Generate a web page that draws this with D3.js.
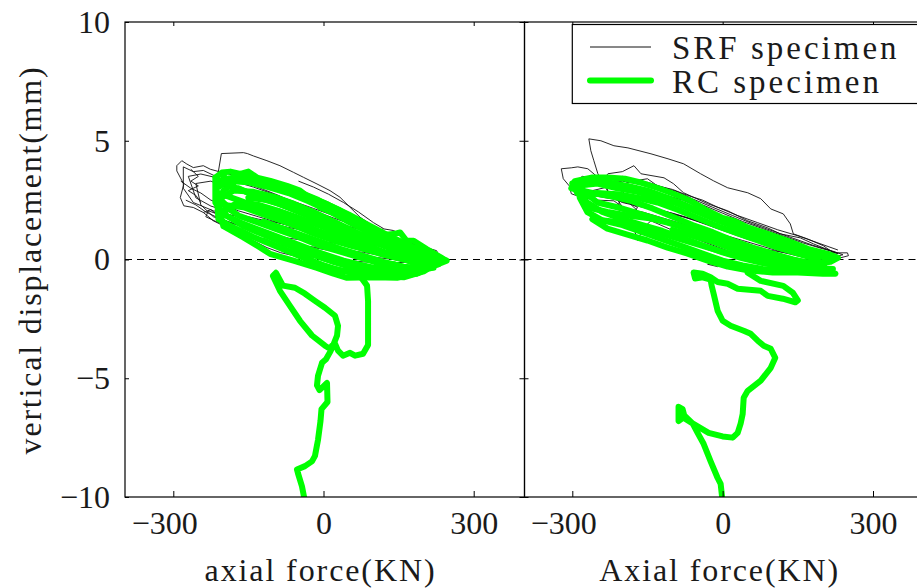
<!DOCTYPE html>
<html>
<head>
<meta charset="utf-8">
<script src="https://cdn.jsdelivr.net/npm/d3@7"></script>
<style>
  body { margin: 0; background: #fff; }
  svg { display: block; }
</style>
</head>
<body>
<svg id="chart" width="917" height="588"></svg>
<script>
var FONT = "'Liberation Serif', 'Times New Roman', 'DejaVu Serif', serif"

// axis ticks
var xTicks = [-300, 0, 300]
var yTicks = [-10, -5, 0, 5, 10]
var legendLabels = ["SRF specimen", "RC specimen"]
var xLabels = ["axial force(KN)", "Axial force(KN)"]
var yLabel = "vertical displacement(mm)"

// ---- left panel, SRF specimen (black loops) ----
var srfL1 = [[-210,3.7],[-204,4.46],[-160,4.5],[-152,4.46],[-140,4.36],[-113,4.16],[-87,3.95],[-60,3.67],[-40,3.46],[-13,3.18],[13,2.9],[33,2.62],[53,2.2],[73,1.78],[93,1.5],[106,1.22],[120,1.29],[140,1.22],[153,1.07],[166,0.86],[180,0.65],[206,0.5],[226,0.37],[229,0.23],[239,0.03],[226,-0.19],[213,-0.48],[200,-0.3],[160,-0.1],[120,0.15],[80,0.3],[40,0.4],[0,0.5],[-40,0.55],[-86,0.6],[-130,0.9],[-170,1.2],[-200,1.6],[-215,2.2],[-210,3.0],[-210,3.7]]
var srfL2 = [[-226,3.8],[-240,3.95],[-260,3.87],[-273,4.02],[-283,4.16],[-293,3.95],[-293,3.73],[-279,3.17],[-286,2.61],[-279,2.26],[-260,2.19],[-240,1.98],[-220,1.63],[-193,1.35],[-166,1.07],[-140,0.79],[-113,0.5],[-86,0.29],[-60,0.16],[-20,0.1],[30,0.0],[80,-0.1],[130,-0.15],[180,-0.1],[213,-0.05],[200,0.2],[170,0.5],[130,0.9],[100,1.2],[70,1.55],[40,1.9],[0,2.3],[-40,2.65],[-80,2.95],[-120,3.25],[-160,3.45],[-200,3.65],[-226,3.8]]
var srfL3 = [[-270,3.5],[-245,3.6],[-215,3.45],[-180,3.3],[-140,3.05],[-100,2.75],[-60,2.45],[-20,2.15],[20,1.85],[60,1.5],[100,1.2],[130,1.0],[170,0.7],[200,0.45],[220,0.25],[195,0.15],[160,0.3],[120,0.6],[90,0.8],[50,0.95],[10,1.1],[-30,1.3],[-80,1.5],[-130,1.7],[-180,1.95],[-225,2.25],[-255,2.6],[-270,3.5]]
var srfL4 = [[-255,3.2],[-225,3.3],[-190,3.0],[-150,2.8],[-110,2.5],[-70,2.2],[-30,1.9],[10,1.65],[50,1.4],[90,1.15],[125,1.05],[150,0.85],[180,0.6],[150,0.5],[120,0.75],[95,0.85],[60,0.75],[20,0.7],[-20,0.75],[-70,0.9],[-120,1.15],[-170,1.45],[-220,1.8],[-245,2.3],[-255,3.2]]
var srfL5 = [[-240,1.98],[-225,2.1],[-205,1.75],[-195,1.45],[-215,1.6],[-235,1.8],[-230,2.05],[-210,1.9],[-200,1.55]]
var srfL6 = [[95,1.15],[110,1.3],[125,1.05],[130,0.85],[115,0.9],[100,1.1],[120,1.2],[133,0.95],[110,0.8]]
var srfL7 = [[160,0.4],[190,0.25],[210,0.1],[230,0.2],[220,-0.1],[200,-0.25],[175,0.0],[160,0.4]]
var srfL8 = [[-280,3.9],[-260,3.7],[-240,3.75],[-220,3.55],[-200,3.5],[-180,3.45],[-150,3.2],[-120,2.95],[-90,2.7],[-60,2.4],[-20,2.05],[20,1.75],[60,1.45],[100,1.25],[140,0.95],[180,0.6],[215,0.3],[235,0.1],[210,-0.1],[170,0.05],[130,0.3],[100,0.6],[60,0.8],[20,0.95],[-20,1.15],[-70,1.35],[-120,1.6],[-170,1.8],[-220,2.05],[-260,2.4],[-280,3.0],[-280,3.9]]
var srfL9 = [[-285,3.3],[-265,3.0],[-245,2.8],[-225,2.5],[-200,2.3],[-170,2.05],[-130,1.8],[-90,1.55],[-50,1.3],[-10,1.05],[30,0.8],[70,0.6],[110,0.4],[150,0.2],[190,0.05],[220,-0.1]]
var srfL10 = [[-275,2.5],[-255,2.3],[-235,2.0],[-210,1.75],[-185,1.55],[-160,1.35],[-130,1.15],[-100,0.95],[-60,0.7],[-20,0.5],[20,0.35],[60,0.2],[100,0.1],[140,0.0],[180,-0.15]]
var srfL11 = [[-265,3.8],[-250,3.5],[-265,3.3],[-250,3.1],[-270,2.9],[-255,2.7],[-245,2.4]]
var srfL12 = [[-50,3.3],[-20,3.05],[10,2.75],[40,2.4],[70,2.0],[100,1.55],[120,1.3]]

// ---- left panel, RC specimen (green loops + tail) ----
var rcL1 = [[-216,3.45],[-203,3.66],[-186,3.7],[-166,3.6],[-150,3.7],[-133,3.45],[-106,3.31],[-73,3.1],[-47,2.9],[-20,2.47],[-7,2.19],[27,1.91],[47,1.63],[73,1.35],[100,1.0],[140,1.07],[153,1.14],[166,0.79],[180,0.79],[206,0.44],[240,0.02],[246,-0.05],[206,-0.39],[186,-0.6],[140,-0.5],[90,-0.3],[40,-0.05],[-10,0.3],[-60,0.7],[-110,1.1],[-160,1.5],[-200,1.9],[-216,2.4],[-216,3.45]]
var rcL2 = [[-214,3.0],[-190,3.3],[-150,3.25],[-110,3.05],[-70,2.8],[-30,2.45],[10,2.05],[50,1.6],[90,1.15],[130,0.75],[170,0.45],[210,0.15],[235,-0.05],[200,-0.5],[160,-0.75],[110,-0.7],[60,-0.55],[20,-0.4],[-20,-0.1],[-60,0.25],[-100,0.6],[-140,0.95],[-180,1.35],[-210,1.7],[-214,3.0]]
var rcL3 = [[-212,2.5],[-180,2.9],[-140,2.85],[-100,2.65],[-60,2.35],[-20,2.0],[20,1.6],[60,1.2],[100,0.8],[140,0.45],[180,0.15],[220,-0.15],[190,-0.55],[147,-0.77],[100,-0.75],[47,-0.77],[20,-0.6],[-13,-0.35],[-60,-0.05],[-107,0.24],[-126,0.5],[-160,0.93],[-200,1.4],[-212,2.5]]
var rcL4 = [[-205,2.0],[-170,2.4],[-130,2.3],[-90,2.05],[-50,1.75],[-10,1.45],[30,1.1],[70,0.75],[110,0.4],[150,0.1],[190,-0.2],[160,-0.5],[120,-0.45],[80,-0.35],[40,-0.2],[0,0.05],[-40,0.35],[-80,0.7],[-120,1.05],[-160,1.4],[-205,2.0]]
var rcL5 = [[-190,3.4],[-150,3.45],[-110,3.2],[-70,2.95],[-30,2.65],[10,2.3],[50,1.9],[90,1.45],[130,1.0],[170,0.6],[205,0.3],[180,0.3],[140,0.5],[100,0.8],[60,1.1],[20,1.4],[-20,1.75],[-60,2.1],[-100,2.45],[-140,2.75],[-180,3.05],[-190,3.4]]
var rcL6 = [[-150,2.6],[-110,2.5],[-70,2.2],[-30,1.85],[10,1.5],[50,1.15],[90,0.8],[130,0.5],[170,0.2],[140,0.2],[100,0.35],[60,0.55],[20,0.8],[-20,1.1],[-60,1.45],[-100,1.8],[-140,2.15],[-150,2.6]]
var rcL7 = [[-210,3.3],[-170,3.5],[-130,3.3],[-90,3.1],[-50,2.85],[-10,2.5],[30,2.1],[70,1.6],[110,1.1],[150,0.75],[190,0.4],[225,0.1],[190,-0.1],[150,0.1],[110,0.35],[70,0.6],[30,0.9],[-10,1.2],[-50,1.55],[-90,1.9],[-130,2.2],[-170,2.5],[-210,2.8]]
var rcL8 = [[-200,2.3],[-160,2.2],[-120,1.9],[-80,1.6],[-40,1.3],[0,1.0],[40,0.7],[80,0.45],[120,0.2],[160,0.0],[200,-0.2],[230,-0.2],[190,-0.35],[150,-0.3],[110,-0.15],[70,0.1],[30,0.35],[-10,0.6],[-50,0.95],[-90,1.25],[-130,1.55],[-170,1.85],[-200,2.3]]
var rcL9 = [[-120,1.6],[-80,1.3],[-40,1.0],[0,0.7],[40,0.4],[80,0.15],[120,-0.1],[160,-0.3],[200,-0.4],[160,-0.6],[120,-0.55],[80,-0.55],[40,-0.5],[0,-0.25],[-40,0.1],[-80,0.45],[-120,0.8]]
var rcL10 = [[-170,3.0],[-130,2.6],[-90,2.35],[-50,2.05],[-10,1.75],[30,1.4],[70,1.05],[110,0.7],[150,0.4],[190,0.1]]
var rcL11 = [[-60,0.4],[-20,0.2],[20,-0.1],[60,-0.35],[100,-0.4],[140,-0.2],[180,-0.45],[220,-0.35]]
var rcL12 = [[-200,3.5],[-180,3.2],[-200,2.9],[-205,2.5],[-190,2.2],[-200,1.9]]
var rcLTail = [[43,-0.48],[73,-0.69],[87,-1.1],[89,-1.74],[89,-3.6],[79,-3.97],[63,-4.05],[53,-3.93],[39,-4.05],[29,-3.84],[23,-3.54],[17,-3.63],[13,-3.76],[3,-3.63],[-23,-3.2],[-47,-2.58],[-67,-1.95],[-87,-1.32],[-101,-0.69],[-95,-0.56],[-81,-1.1],[-57,-1.19],[-37,-1.44],[-17,-1.74],[3,-2.03],[23,-2.37],[29,-2.79],[27,-3.21],[19,-3.63],[13,-3.9],[5,-4.2],[-3,-4.35],[-11,-4.9],[-13,-5.3],[-8,-5.5],[7,-5.2],[8,-6.0],[-4,-6.3],[-6,-6.8],[-11,-7.6],[-17,-8.27],[-23,-8.5],[-37,-8.7],[-53,-8.84],[-51,-9.0],[-43,-9.55],[-37,-10.2]]

// ---- right panel, SRF specimen ----
var srfR1 = [[-249,3.61],[-257,4.16],[-263,4.58],[-267,5.08],[-243,5.0],[-217,4.79],[-189,4.7],[-143,4.45],[-109,4.24],[-78,4.03],[-44,3.61],[-18,3.31],[10,3.02],[50,2.81],[76,2.56],[96,2.13],[121,1.92],[135,1.5],[141,1.08],[169,0.87],[201,0.58],[221,0.28],[249,0.28],[251,0.16],[235,0.07],[200,0.0],[160,0.1],[120,0.3],[80,0.55],[40,0.8],[0,1.05],[-40,1.35],[-80,1.65],[-120,1.95],[-160,2.25],[-200,2.55],[-230,2.9],[-249,3.61]]
var srfR2 = [[-240,3.3],[-269,3.82],[-289,3.9],[-302,3.86],[-322,3.82],[-318,3.4],[-306,3.1],[-302,2.77],[-280,2.6],[-250,2.5],[-217,2.47],[-189,2.05],[-169,0.79],[-160,1.3],[-143,1.63],[-98,1.21],[-44,0.79],[10,0.37],[62,0.07],[101,-0.05],[155,-0.05],[200,0.1],[230,0.25],[215,0.37],[181,0.66],[155,0.91],[115,1.08],[90,1.33],[50,1.63],[10,2.05],[-30,2.35],[-78,2.81],[-98,3.19],[-117,3.44],[-163,3.61],[-177,3.95],[-200,3.7],[-229,3.61],[-240,3.3]]
var srfR3 = [[-230,3.2],[-200,3.3],[-160,3.15],[-120,2.95],[-80,2.65],[-40,2.3],[0,1.95],[40,1.6],[80,1.3],[120,1.0],[160,0.7],[200,0.45],[225,0.3],[200,0.2],[160,0.3],[120,0.5],[80,0.75],[40,1.0],[0,1.3],[-40,1.55],[-80,1.8],[-120,2.0],[-160,2.2],[-200,2.4],[-230,2.7],[-230,3.2]]
var srfR4 = [[-210,2.5],[-190,2.4],[-170,2.2],[-175,2.0],[-195,2.05],[-210,2.2],[-205,2.45],[-185,2.35],[-172,2.1],[-190,1.95],[-210,2.5]]
var srfR5 = [[-200,2.9],[-160,2.95],[-120,2.75],[-80,2.5],[-40,2.15],[0,1.8],[40,1.45],[80,1.15],[120,0.85],[160,0.55],[200,0.3],[170,0.15],[130,0.35],[90,0.6],[50,0.85],[10,1.15],[-30,1.45],[-70,1.75],[-110,2.0],[-150,2.25],[-190,2.5],[-200,2.9]]
var srfR6 = [[-30,-0.2],[-10,-0.3],[10,-0.25],[-5,-0.15],[-30,-0.2]]
var srfR7 = [[-300,3.2],[-280,3.5],[-250,3.4],[-220,3.5],[-190,3.25],[-150,3.25],[-120,3.05],[-90,2.85],[-60,2.55],[-20,2.2],[20,1.85],[60,1.5],[100,1.2],[140,0.9],[180,0.6],[220,0.35],[240,0.2],[220,0.1],[180,0.2],[140,0.4],[100,0.6],[60,0.85],[20,1.1],[-20,1.4],[-60,1.7],[-100,1.95],[-140,2.15],[-180,2.35],[-220,2.55],[-260,2.7],[-300,3.2]]
var srfR8 = [[-260,2.9],[-230,3.05],[-200,3.5],[-180,3.3],[-150,3.4],[-130,3.1],[-100,2.95],[-70,2.7],[-40,2.5],[-10,2.2],[30,1.85],[70,1.55],[110,1.25],[150,1.0],[190,0.7],[230,0.4]]
var srfR9 = [[-240,2.3],[-200,2.15],[-160,2.0],[-120,1.75],[-80,1.5],[-40,1.2],[0,0.95],[40,0.7],[80,0.45],[120,0.3],[160,0.2],[200,0.15]]

// ---- right panel, RC specimen ----
var rcR1 = [[-302,3.0],[-295,3.3],[-260,3.45],[-230,3.45],[-195,3.4],[-160,3.22],[-128,3.0],[-98,2.77],[-64,2.47],[-30,2.05],[0,1.75],[22,1.63],[50,1.35],[90,1.08],[130,0.79],[170,0.45],[210,0.24],[230,0.07],[215,-0.1],[180,-0.2],[140,0.0],[100,0.25],[60,0.5],[20,0.8],[-20,1.15],[-60,1.45],[-100,1.8],[-140,2.15],[-180,2.45],[-220,2.65],[-260,2.8],[-302,3.0]]
var rcR2 = [[-300,3.2],[-270,3.3],[-230,3.25],[-190,3.1],[-150,2.9],[-110,2.6],[-70,2.25],[-30,1.85],[10,1.5],[50,1.15],[90,0.85],[130,0.55],[170,0.3],[210,0.05],[200,-0.3],[160,-0.4],[120,-0.3],[80,-0.15],[40,0.05],[0,0.3],[-40,0.6],[-80,0.9],[-120,1.2],[-160,1.45],[-200,1.7],[-240,2.0],[-270,2.4],[-290,2.8],[-300,3.2]]
var rcR3 = [[-285,2.6],[-250,2.8],[-210,2.75],[-170,2.6],[-130,2.4],[-90,2.1],[-50,1.75],[-10,1.4],[30,1.1],[70,0.8],[110,0.5],[150,0.25],[190,0.0],[160,-0.3],[120,-0.45],[80,-0.4],[40,-0.25],[0,-0.05],[-40,0.25],[-80,0.55],[-120,0.85],[-160,1.15],[-200,1.45],[-240,1.65],[-270,2.0],[-285,2.6]]
var rcR4 = [[-260,1.7],[-220,1.6],[-180,1.45],[-140,1.2],[-100,0.95],[-60,0.7],[-20,0.45],[20,0.2],[60,0.0],[100,-0.15],[150,-0.3],[200,-0.45],[225,-0.6],[200,-0.6],[150,-0.55],[100,-0.55],[50,-0.45],[10,-0.3],[-30,-0.05],[-70,0.25],[-110,0.5],[-150,0.8],[-190,1.05],[-230,1.3],[-260,1.7]]
var rcR5 = [[-270,2.2],[-230,2.0],[-190,1.85],[-150,1.75],[-110,1.55],[-70,1.3],[-30,1.0],[10,0.7],[50,0.45],[90,0.2],[130,0.0]]
var rcR6 = [[-290,3.1],[-250,3.2],[-210,3.0],[-170,2.85],[-130,2.6],[-90,2.35],[-50,2.0],[-10,1.65],[30,1.35],[70,1.05],[110,0.75],[150,0.5],[190,0.25],[220,0.05],[190,-0.2],[150,-0.05],[110,0.1],[70,0.35],[30,0.55],[-10,0.85],[-50,1.15],[-90,1.45],[-130,1.7],[-170,1.95],[-210,2.2],[-250,2.4],[-290,3.1]]
var rcR7 = [[-100,1.25],[-60,1.0],[-20,0.75],[20,0.45],[60,0.2],[100,0.0],[140,-0.2],[180,-0.35],[220,-0.4]]
var rcR8 = [[-40,0.05],[0,-0.15],[40,-0.3],[80,-0.45],[120,-0.45],[160,-0.5]]
var rcRTail = [[50,-0.56],[76,-0.9],[121,-1.11],[140,-1.4],[150,-1.72],[145,-1.8],[120,-1.65],[90,-1.53],[76,-1.32],[30,-1.23],[10,-1.02],[-10,-0.95],[-24,-0.75],[-40,-0.6],[-58,-0.55],[-55,-0.8],[-40,-0.75],[-24,-0.85],[-22,-1.1],[-18,-1.44],[-10,-2.16],[0,-2.58],[16,-2.79],[42,-3.0],[56,-3.13],[70,-3.42],[82,-3.63],[96,-3.76],[105,-4.14],[96,-4.56],[76,-5.1],[50,-5.53],[42,-5.82],[40,-6.5],[36,-6.9],[30,-7.3],[20,-7.5],[0,-7.45],[-28,-7.3],[-60,-6.9],[-75,-6.6],[-88,-6.8],[-88,-6.2],[-80,-6.3],[-75,-6.7],[-60,-6.9],[-50,-7.3],[-38,-7.76],[-24,-8.5],[-10,-9.2],[-4,-9.45],[0,-10.2]]

var srfLeft = [srfL1, srfL2, srfL3, srfL4, srfL5, srfL6, srfL7, srfL8, srfL9, srfL10, srfL11, srfL12]
var rcLeft = [rcL1, rcL2, rcL3, rcL4, rcL5, rcL6, rcL7, rcL8, rcL9, rcL10, rcL11, rcL12, rcLTail]
var srfRight = [srfR1, srfR2, srfR3, srfR4, srfR5, srfR6, srfR7, srfR8, srfR9]
var rcRight = [rcR1, rcR2, rcR3, rcR4, rcR5, rcR6, rcR7, rcR8, rcRTail]

var GREEN = "#00ff00"
var svg = d3.select("#chart")

var y = d3.scaleLinear().domain([-10, 10]).range([497, 22])

// each panel: x scale and its visible pixel bounds
var panels = [
	{id: "L", x: d3.scaleLinear().domain([-300, 300]).range([173.3, 473.7]), x0: 125, x1: 524.5, srf: srfLeft, rc: rcLeft, label: xLabels[0]},
	{id: "R", x: d3.scaleLinear().domain([-300, 300]).range([572.3, 873]), x0: 524.5, x1: 930, srf: srfRight, rc: rcRight, label: xLabels[1]}
]

var defs = svg.append("defs")

panels.forEach(function(p) {
	defs.append("clipPath").attr("id", "clip" + p.id)
		.append("rect").attr("x", p.x0).attr("y", 22).attr("width", p.x1 - p.x0).attr("height", 475)

	var line = d3.line().x(function(d) {return p.x(d[0]);}).y(function(d) {return y(d[1]);})
	var g = svg.append("g").attr("clip-path", "url(#clip" + p.id + ")")

	// zero line
	g.append("line")
		.attr("x1", p.x0).attr("x2", p.x1)
		.attr("y1", y(0)).attr("y2", y(0))
		.attr("stroke", "#000").attr("stroke-width", 1)
		.attr("stroke-dasharray", "7,5")

	// SRF loops
	g.selectAll("path.srf")
		.data(p.srf)
		.join("path")
		.classed("srf", true)
		.attr("d", line)
		.attr("fill", "none")
		.attr("stroke", "#111")
		.attr("stroke-width", 0.9)
		.attr("stroke-linejoin", "round")

	// RC loops
	g.selectAll("path.rc")
		.data(p.rc)
		.join("path")
		.classed("rc", true)
		.attr("d", line)
		.attr("fill", "none")
		.attr("stroke", GREEN)
		.attr("stroke-width", 6)
		.attr("stroke-linejoin", "round")
		.attr("stroke-linecap", "round")

	// frame
	svg.append("rect")
		.attr("x", p.x0).attr("y", 22)
		.attr("width", p.x1 - p.x0).attr("height", 475)
		.attr("fill", "none").attr("stroke", "#000").attr("stroke-width", 1.2)

	// bottom and top ticks
	var bottom = svg.append("g").attr("transform", "translate(0,497)")
		.call(d3.axisBottom(p.x).tickValues(xTicks).tickSizeInner(-6).tickSizeOuter(0).tickPadding(14)
			.tickFormat(function(d) {return d < 0 ? "\u2212" + Math.abs(d) : String(d);}))
	bottom.select(".domain").remove()
	bottom.attr("font-family", FONT)
	bottom.selectAll("text").attr("font-size", 32).attr("dy", "0.71em").attr("fill", "#1a1a1a")
	bottom.selectAll(".tick text").each(function(d) {
		if (d < 0) {
			var w = this.getComputedTextLength() - 18
			d3.select(this).attr("text-anchor", "end").attr("x", w / 2)
		}
	})

	var top = svg.append("g").attr("transform", "translate(0,22)")
		.call(d3.axisTop(p.x).tickValues(xTicks).tickSizeInner(-4).tickSizeOuter(0).tickFormat(""))
	top.select(".domain").remove()

	// left/right inner ticks
	var left = svg.append("g").attr("transform", "translate(" + p.x0 + ",0)")
		.call(d3.axisLeft(y).tickValues(yTicks).tickSizeInner(-4).tickSizeOuter(0).tickFormat(""))
	left.select(".domain").remove()
	var right = svg.append("g").attr("transform", "translate(" + p.x1 + ",0)")
		.call(d3.axisRight(y).tickValues(yTicks).tickSizeInner(-5).tickSizeOuter(0).tickFormat(""))
	right.select(".domain").remove()

	// x label
	svg.append("text")
		.attr("x", p.x(0) - 3).attr("y", 581)
		.attr("text-anchor", "middle")
		.attr("font-family", FONT)
		.attr("font-size", 32)
		.attr("fill", "#1a1a1a")
		.attr("letter-spacing", 1.9)
		.text(p.label)
})

svg.selectAll(".tick line").attr("stroke", "#000")

// y tick labels
var yAxis = svg.append("g").attr("transform", "translate(125,0)")
	.call(d3.axisLeft(y).tickValues(yTicks).tickSize(0).tickPadding(15)
		.tickFormat(function(d) {return d < 0 ? "\u2212" + Math.abs(d) : String(d);}))
yAxis.select(".domain").remove()
yAxis.attr("font-family", FONT)
yAxis.selectAll("text").attr("font-size", 32).attr("fill", "#1a1a1a")

// y label
svg.append("text")
	.attr("transform", "translate(41,260) rotate(-90)")
	.attr("text-anchor", "middle")
	.attr("font-family", FONT)
	.attr("font-size", 32)
	.attr("fill", "#1a1a1a")
	.attr("letter-spacing", 1.8)
	.text(yLabel)

// legend
var lg = svg.append("g")
lg.append("rect")
	.attr("x", 572.3).attr("y", 24.5).attr("width", 360).attr("height", 79)
	.attr("fill", "#fff").attr("stroke", "#000").attr("stroke-width", 1.2)
var legendStyle = [
	{color: "#111", width: 1, y: 47},
	{color: GREEN, width: 6, y: 80.5}
]
legendLabels.forEach(function(name, i) {
	var s = legendStyle[i]
	lg.append("line")
		.attr("x1", 590).attr("x2", 651).attr("y1", s.y).attr("y2", s.y)
		.attr("stroke", s.color).attr("stroke-width", s.width).attr("stroke-linecap", i ? "round" : "butt")
	lg.append("text")
		.attr("x", 672).attr("y", s.y + 12)
		.attr("font-family", FONT)
		.attr("font-size", 33)
		.attr("fill", "#1a1a1a")
		.attr("letter-spacing", 3)
		.text(name)
})
</script>
</body>
</html>
